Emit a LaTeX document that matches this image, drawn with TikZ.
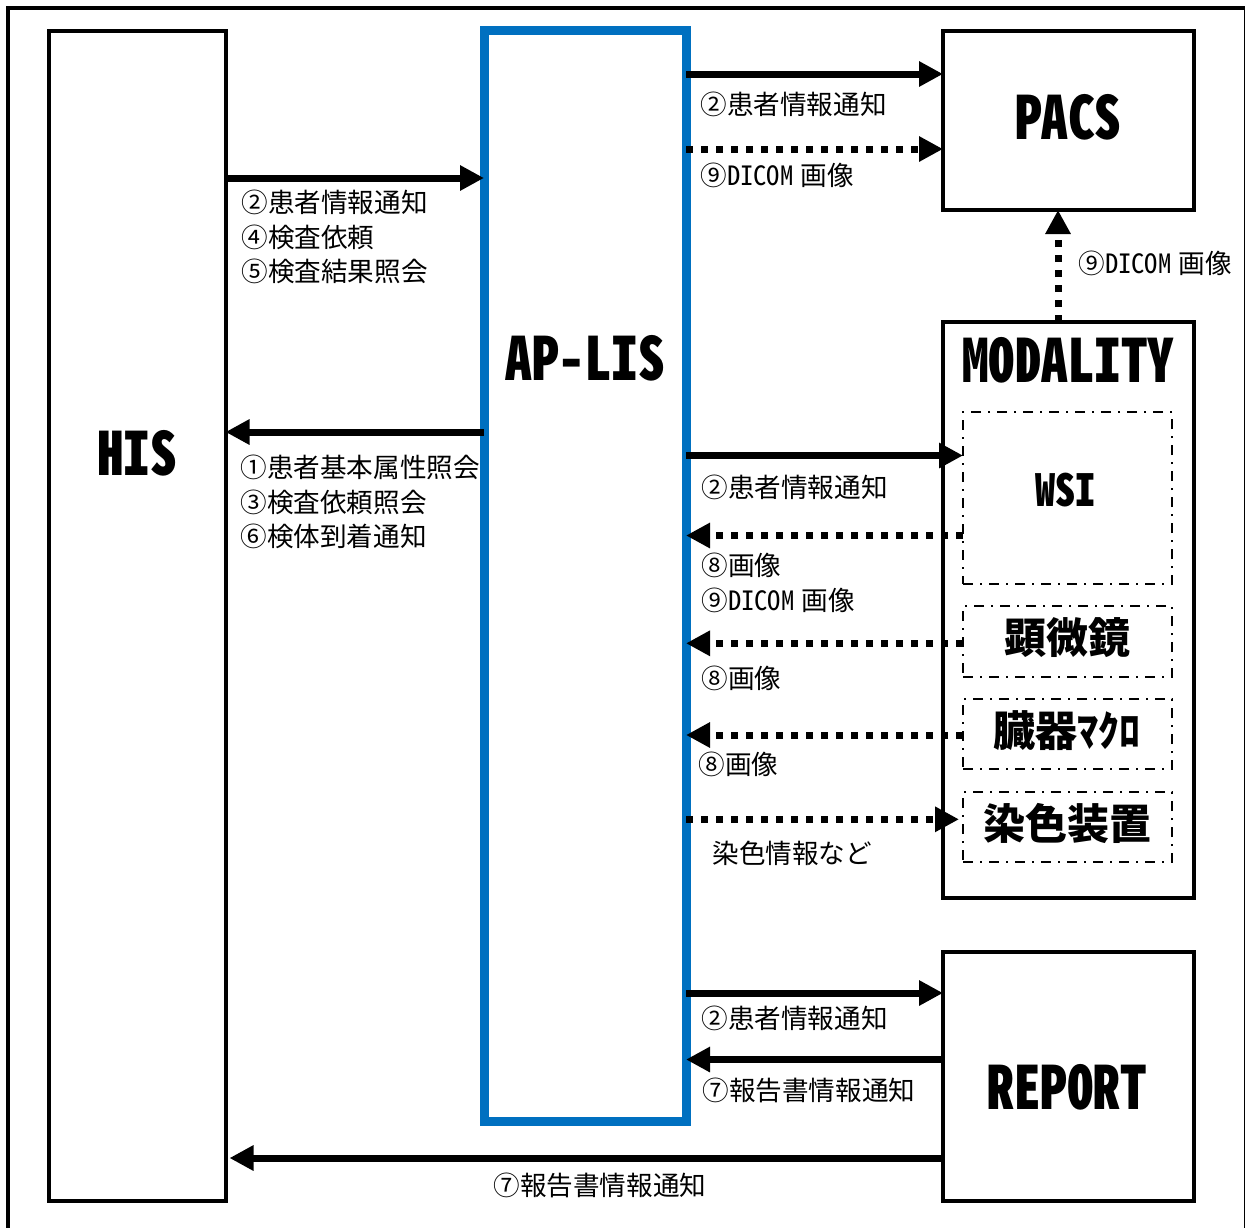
\documentclass[tikz,border=0pt]{standalone}
\usepackage{fontspec}
\usepackage{graphicx}
\setmainfont{Noto Sans CJK JP}
\newfontfamily\hwfont[RawFeature=+hwid]{Noto Sans CJK JP}
\usetikzlibrary{arrows.meta}
\definecolor{lisblue}{HTML}{0070C0}
\newcommand{\tallx}[2]{\scalebox{1}[#1]{#2}}
\newcommand{\dicom}{{\hwfont DICOM}\hspace{3.5pt}}
\begin{document}
\begin{tikzpicture}[x=0.5pt,y=-0.5pt,
  box/.style={draw, line width=2pt, inner sep=0pt, outer sep=0pt, rectangle},
  subbox/.style={draw, line width=1.2pt, dash pattern=on 5pt off 3.5pt on 1pt off 3.5pt, inner sep=0pt, outer sep=0pt, rectangle},
  arr/.style={line width=3.5pt, -{Triangle[length=12pt,width=12pt]}},
  darr/.style={arr, dash pattern=on 3.5pt off 4pt},
  lbl/.style={anchor=west, inner sep=0pt, font=\fontsize{13.3}{17.35}\selectfont, align=left},
  big/.style={inner sep=0pt, font=\fontsize{26.5}{30}\selectfont\bfseries},
  bigj/.style={inner sep=0pt, font=\fontsize{21}{24}\selectfont\bfseries},
]
\useasboundingbox (0,0) rectangle (1245,1227);
\clip (0,0) rectangle (1245,1227);
\fill[white] (0,0) rectangle (1245,1227);
\draw[line width=2pt] (8,8) rectangle (1246,1240);

% boxes
\node[box, minimum width=88.5pt, minimum height=585pt] (his) at (137,616) {};
\node[box, draw=lisblue, line width=4.5pt, minimum width=101pt, minimum height=545.25pt] (lis) at (585,575.75) {};
\node[box, minimum width=125.5pt, minimum height=89.5pt] (pacs) at (1068.5,120.5) {};
\node[box, minimum width=125.5pt, minimum height=288pt] (mod) at (1068.5,610) {};
\node[box, minimum width=125.5pt, minimum height=124.5pt] (rep) at (1068.5,1076.5) {};
\node[subbox, minimum width=104.5pt, minimum height=86pt] (wsi) at (1067.5,498) {};
\node[subbox, minimum width=104.5pt, minimum height=35.5pt] (mic) at (1067.5,641.5) {};
\node[subbox, minimum width=104.5pt, minimum height=35pt] (mac) at (1067.5,734) {};
\node[subbox, minimum width=104.5pt, minimum height=35pt] (stn) at (1067.5,827) {};

% big labels
\node[big] (hisl) at (137,453) {\tallx{1.12}{\hwfont\bfseries HIS}};
\node[big] (lisl) at (585,358) {\tallx{1.12}{\hwfont\bfseries AP-LIS}};
\node[big] (pacsl) at (1068,117) {\tallx{1.12}{\hwfont\bfseries PACS}};
\node[big] (modl) at (1068,360) {\tallx{1.12}{\hwfont\bfseries MODALITY}};
\node[big, font=\fontsize{20}{24}\selectfont\bfseries] (wsil) at (1065,490) {\tallx{1.1}{\hwfont\bfseries WSI}};
\node[bigj] (micl) at (1067,638) {顕微鏡};
\node[bigj] (macl) at (1067,731) {臓器ﾏｸﾛ};
\node[bigj] (stnl) at (1067,823) {染色装置};
\node[big] (repl) at (1067,1087) {\tallx{1.12}{\hwfont\bfseries REPORT}};

% y levels
\coordinate (y74) at (0,74);
\coordinate (y149) at (0,149);
\coordinate (y178) at (0,178);
\coordinate (y432) at (0,432);
\coordinate (y455) at (0,455.5);
\coordinate (y535) at (0,535.5);
\coordinate (y643) at (0,643.3);
\coordinate (y735) at (0,735);
\coordinate (y819) at (0,819.3);
\coordinate (y993) at (0,993);
\coordinate (y1059) at (0,1059.5);
\coordinate (y1158) at (0,1158);
\coordinate (vx) at (1058,0);

% connectors
\draw[arr] (his.east |- y178) -- (lis.west |- y178);
\draw[arr] (lis.west |- y432) -- (his.east |- y432);
\draw[arr] (lis.east |- y74) -- (pacs.west |- y74);
\draw[darr] (lis.east |- y149) -- (pacs.west |- y149);
\draw[darr] (vx |- mod.north) -- (vx |- pacs.south);
\draw[arr] (lis.east |- y455) -- (wsi.west |- y455);
\draw[darr] (wsi.west |- y535) -- (lis.east |- y535);
\draw[darr] (mic.west |- y643) -- (lis.east |- y643);
\draw[darr] (mac.west |- y735) -- (lis.east |- y735);
\draw[darr] (lis.east |- y819) -- ([xshift=-2pt]stn.west |- y819);
\draw[arr] (lis.east |- y993) -- (rep.west |- y993);
\draw[arr] (rep.west |- y1059) -- (lis.east |- y1059);
\draw[arr] (rep.west |- y1158) -- ([xshift=2pt]his.east |- y1158);

% connector labels
\node[lbl] (t1) at (241,237) {②患者情報通知\\④検査依頼\\⑤検査結果照会};
\node[lbl] (t2) at (240,502) {①患者基本属性照会\\③検査依頼照会\\⑥検体到着通知};
\node[lbl] (t3) at (700,104) {②患者情報通知};
\node[lbl] (t4) at (700,175) {⑨\dicom 画像};
\node[lbl] (t5) at (1078,263) {⑨\dicom 画像};
\node[lbl] (t6) at (701,487) {②患者情報通知};
\node[lbl] (t7) at (701,583) {⑧画像\\⑨\dicom 画像};
\node[lbl] (t8) at (701,678) {⑧画像};
\node[lbl] (t9) at (698,764) {⑧画像};
\node[lbl] (t10) at (712,853) {染色情報など};
\node[lbl] (t11) at (701,1018) {②患者情報通知};
\node[lbl] (t12) at (702,1090) {⑦報告書情報通知};
\node[lbl] (t13) at (493,1185) {⑦報告書情報通知};
\end{tikzpicture}
\end{document}
